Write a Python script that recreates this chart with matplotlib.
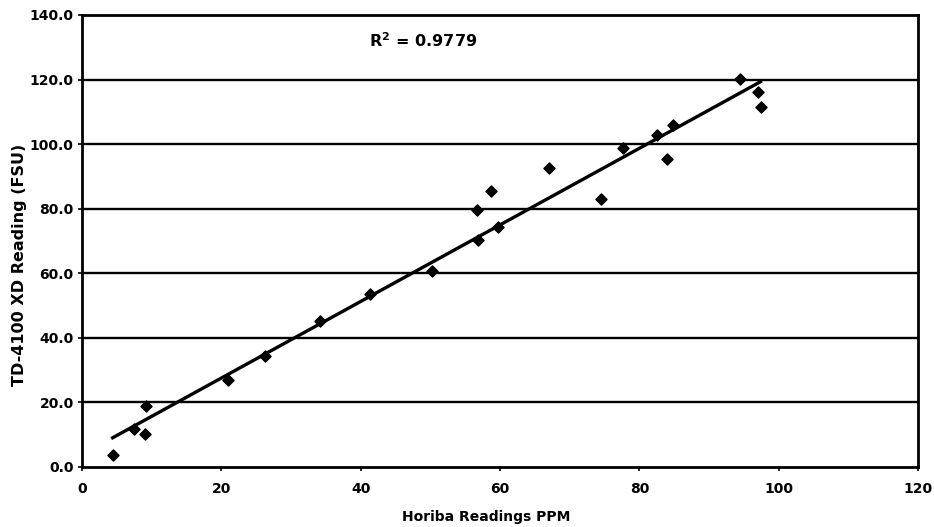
import matplotlib
matplotlib.use("Agg")
import matplotlib.pyplot as plt
import numpy as np

plt.rcParams["font.family"] = ["DejaVu Sans"]
plt.rcParams["font.weight"] = "bold"

# Horiba PPM vs TD-4100 XD reading (FSU)
horiba = [4.4, 7.4, 9.2, 9.1, 21.0, 26.3, 34.2, 41.4, 50.3, 56.9, 59.7, 56.7,
          58.7, 67.1, 74.5, 77.6, 82.5, 84.8, 83.9, 94.5, 97.0, 97.4]
td4100 = [3.6, 11.8, 19.0, 10.2, 26.8, 34.4, 45.3, 53.5, 60.8, 70.2, 74.4, 79.6,
          85.6, 92.5, 83.0, 98.7, 102.8, 105.9, 95.3, 120.1, 116.0, 111.5]
r2_text = "R$^\\mathbf{2}$ = 0.9779"
y_ticks = [0, 20, 40, 60, 80, 100, 120, 140]
x_ticks = [0, 20, 40, 60, 80, 100, 120]

x = np.array(horiba)
y = np.array(td4100)
slope, intercept = np.polyfit(x, y, 1)
xfit = np.array([x.min(), x.max()])

fig = plt.figure(figsize=(9.34, 5.27), dpi=100)
fig.subplots_adjust(left=82 / 934, right=918 / 934, top=1 - 15 / 527, bottom=1 - 467 / 527)
ax = fig.add_subplot(1, 1, 1)

for yt in y_ticks[1:-1]:
    ax.axhline(yt, color="black", lw=1.7, zorder=1)

ax.plot(xfit, slope * xfit + intercept, color="black", lw=2.4, zorder=2)
ax.scatter(x, y, marker="D", s=32, color="black", zorder=3)

ax.text(49, 132, r2_text, fontsize=11.5, fontweight="bold", ha="center", va="center")

ax.set_xlim(0, 120)
ax.set_ylim(0, 140)
ax.set_xticks(x_ticks)
ax.set_yticks(y_ticks)
ax.set_yticklabels(["%.1f" % v for v in y_ticks])
ax.tick_params(direction="out", length=3, width=1.2, labelsize=10)
ax.tick_params(axis="y", pad=3)
ax.tick_params(axis="x", pad=8)

for s in ax.spines.values():
    s.set_linewidth(2)

ax.set_xlabel("Horiba Readings PPM", fontsize=10, fontweight="bold")
ax.set_ylabel("TD-4100 XD Reading (FSU)", fontsize=11.5, fontweight="bold")
ax.xaxis.set_label_coords(0.484, -0.096)
ax.yaxis.set_label_coords(-0.066, 0.447)

plt.savefig("out.png", dpi=100)
